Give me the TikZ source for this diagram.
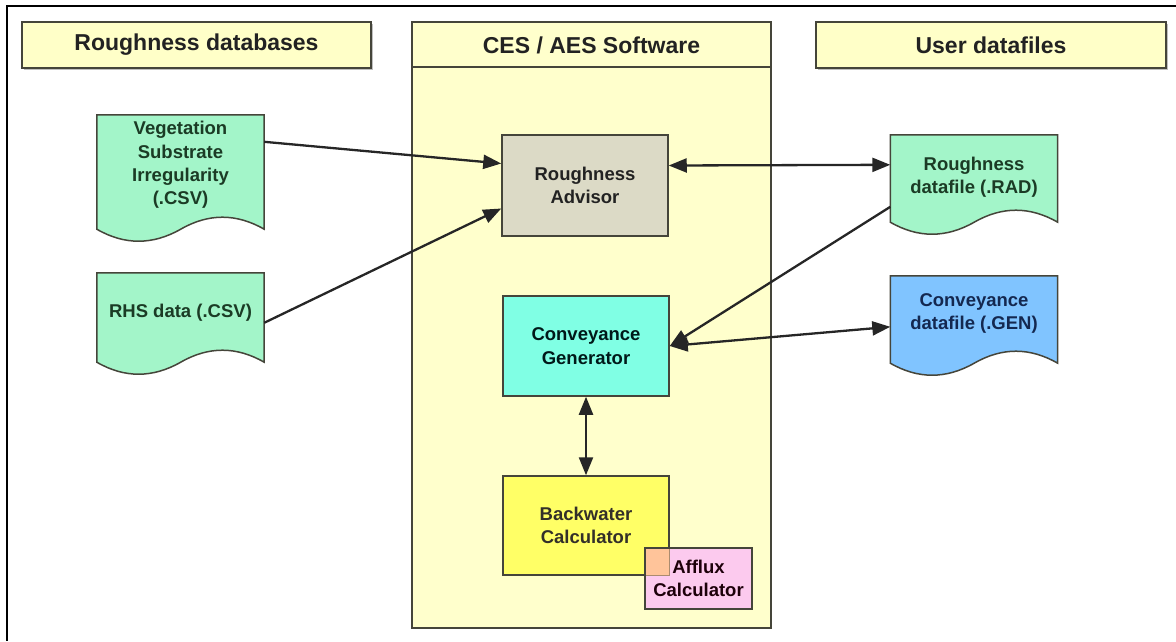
\documentclass[tikz,border=0pt]{standalone}
\usepackage{fontspec}
\setmainfont{Liberation Sans}
\usetikzlibrary{arrows.meta,backgrounds,shadows}
\definecolor{hdrfill}{HTML}{FFFFC8}
\definecolor{swfill}{HTML}{FFFFCC}
\definecolor{edge}{HTML}{45453A}
\definecolor{rafill}{HTML}{DCDAC6}
\definecolor{greendoc}{HTML}{A3F5C9}
\definecolor{bluedoc}{HTML}{80C4FF}
\definecolor{cgfill}{HTML}{80FFE4}
\definecolor{bcfill}{HTML}{FFFF66}
\definecolor{affill}{HTML}{FCCAEE}
\definecolor{ovfill}{HTML}{FFC49A}
\definecolor{txt}{HTML}{222222}
\definecolor{greentxt}{HTML}{1B3B25}
\definecolor{bluetxt}{HTML}{142850}
\newcommand\docoutline[2]{%
  \path[docshape, fill=#2] (#1.north west) -- (#1.north east) -- (#1.south east)
   .. controls ([xshift=-27.8pt,yshift=16pt]#1.south east) and ([xshift=-55.7pt,yshift=16pt]#1.south east) .. ([xshift=-83.5pt]#1.south east)
   .. controls ([xshift=55.7pt,yshift=-16pt]#1.south west) and ([xshift=27.8pt,yshift=-16pt]#1.south west) .. (#1.south west) -- cycle;}
\begin{document}
\begin{tikzpicture}[x=1pt,y=-1pt,
  hdrfont/.style={font=\fontsize{23}{28}\selectfont\bfseries, text=txt},
  hdr/.style={hdrfont, draw=edge, line width=2pt, fill=hdrfill, minimum height=46pt, inner sep=0pt,
    drop shadow={shadow xshift=1.5pt, shadow yshift=-1.5pt, opacity=0.25, fill=black}},
  swbox/.style={draw=edge, line width=1.6pt, fill=swfill, minimum width=359pt, minimum height=606pt, inner sep=0pt},
  bodyfont/.style={font=\fontsize{18.5}{23.3}\selectfont\bfseries},
  proc/.style={bodyfont, draw=edge, line width=1.5pt, minimum width=166pt, minimum height=100pt, inner sep=0pt, align=center, text=txt},
  docbody/.style={inner sep=0pt, minimum width=167pt},
  doctext/.style={bodyfont, inner sep=0pt, align=center, text=greentxt},
  docshape/.style={draw=edge, line width=1.5pt},
  tip/.tip={Triangle[length=18pt,width=14pt]},
  conn/.style={line width=2.3pt, draw=black!85, -tip},
  bconn/.style={line width=2.3pt, draw=black!85, tip-tip}
]
\useasboundingbox (0,0) rectangle (1176,641);
\draw[line width=1.5pt] (1176,6) -- (7,6) -- (7,641);

% column headers
\node[hdr, minimum width=349pt] (h1) at (196.5,45) {Roughness databases};
\node[swbox] (sw) at (591.5,325) {};
\draw[draw=edge, line width=1.6pt] ([yshift=-46pt]sw.north west) -- ([yshift=-46pt]sw.north east);
\node[hdrfont, inner sep=0pt] (h2) at (591.5,45) {CES / AES Software};
\node[hdr, minimum width=350pt] (h3) at (991,45) {User datafiles};

% documents
\node[docbody, minimum height=114pt] (veg) at (180.5,172) {};
\node[docbody, minimum height=89pt] (rhs) at (180.5,317.5) {};
\node[docbody, minimum height=87pt] (rd) at (974,178.5) {};
\node[docbody, minimum height=87pt] (cd) at (974,319.5) {};
\docoutline{veg}{greendoc}
\docoutline{rhs}{greendoc}
\docoutline{rd}{greendoc}
\docoutline{cd}{bluedoc}
\node[doctext] (vegt) at ([yshift=7pt]veg.center) {Vegetation\\Substrate\\Irregularity\\(.CSV)};
\node[doctext] (rhst) at ([yshift=5pt]rhs.center) {RHS data (.CSV)};
\node[doctext] (rdt) at ([yshift=1pt]rd.center) {Roughness\\datafile (.RAD)};
\node[doctext, text=bluetxt] (cdt) at ([yshift=6pt]cd.center) {Conveyance\\datafile (.GEN)};

% software components
\node[proc, fill=rafill, minimum height=101pt] (ra) at (585,185.5) {Roughness\\Advisor};
\node[proc, fill=cgfill, text=black!80!teal] (cg) at (586,346) {Conveyance\\Generator};
\node[proc, fill=bcfill, minimum height=99pt, text=black!85!olive] (bc) at (586,525.5) {Backwater\\Calculator};
\node[proc, fill=affill, draw=none, minimum width=107pt, minimum height=61pt] (afbg) at (698.5,578.5) {};
\fill[ovfill] (afbg.north west) rectangle (bc.south east);
\draw[edge!45!ovfill, line width=1.2pt] (afbg.north west -| bc.east) -- (bc.south east) -- (afbg.west |- bc.south);
\node[proc, fill=none, minimum width=107pt, minimum height=61pt, text=black!85!purple] (af) at (afbg.center) {Afflux\\Calculator};

% connectors
\draw[conn] ([yshift=-27pt]veg.north east) -- ([yshift=22pt]ra.west);
\draw[conn] ([yshift=-50pt]rhs.north east) -- ([yshift=-23pt]ra.west);
\draw[bconn] ([yshift=20pt]ra.east) -- ([yshift=-30pt]rd.north west);
\draw[conn] ([yshift=-72pt]rd.north west) -- (cg.east);
\draw[bconn] (cg.east) -- ([yshift=-51pt]cd.north west);
\draw[bconn] (cg.south) -- (bc.north);
\end{tikzpicture}
\end{document}
